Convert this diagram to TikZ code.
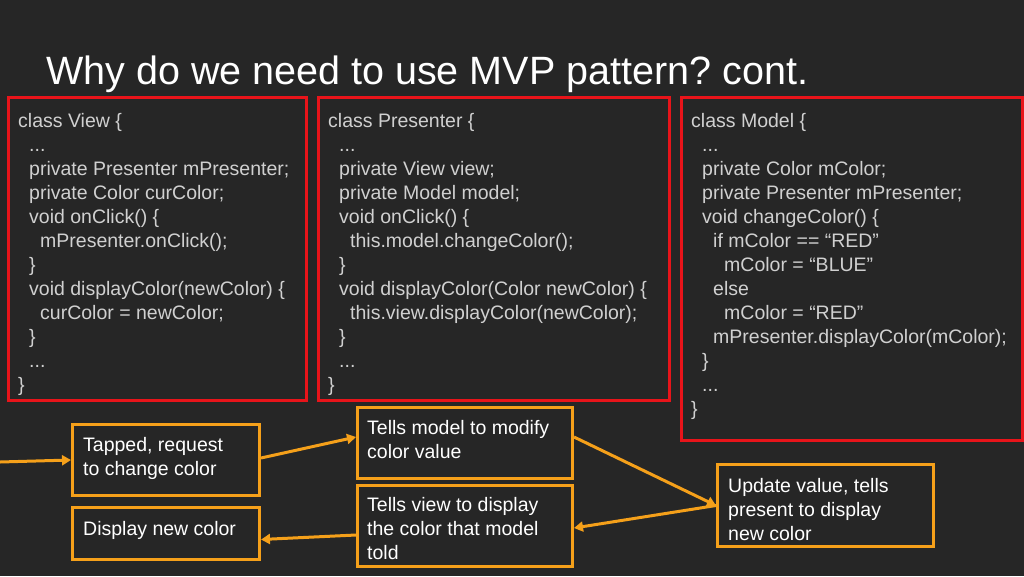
\documentclass[tikz,border=0pt]{standalone}
\usepackage{fontspec}
\setmainfont{Liberation Sans}
\usetikzlibrary{arrows.meta}
\definecolor{bg}{HTML}{262626}
\definecolor{codec}{HTML}{D0D0D0}
\definecolor{org}{HTML}{F5A01A}
\definecolor{redb}{HTML}{E8141A}
\newcommand{\ia}{\hspace*{11pt}}
\newcommand{\ib}{\hspace*{22pt}}
\newcommand{\ic}{\hspace*{33pt}}
\tikzset{
 codebox/.style={draw=redb,line width=3pt},
 code/.style={anchor=north west,inner sep=0pt,align=left,text=codec,font=\fontsize{19.5}{24}\selectfont},
 note/.style={draw=org,line width=3pt,anchor=north west,inner sep=0pt},
 notetext/.style={anchor=north west,inner sep=0pt,align=left,text=white,font=\fontsize{19.5}{24}\selectfont},
 arr/.style={draw=org,line width=3pt,-{Triangle[length=9pt,width=10pt]}}
}
\begin{document}
\frenchspacing
\begin{tikzpicture}[x=1pt,y=-1pt]
\fill[bg] (0,0) rectangle (1024,576);
\useasboundingbox (0,0) rectangle (1024,576);
\node[anchor=base west,inner sep=0pt,text=white,font=\fontsize{39.5}{44}\selectfont] (title) at (46,84) {Why do we need to use MVP pattern? cont.};
\draw[codebox] (8,97) rectangle (306,400);
\draw[codebox] (318,97) rectangle (669,400);
\draw[codebox] (681,97) rectangle (1022,440);
\node[code] (cv) at (18,113) {class View \{\\ \ia...\\ \ia private Presenter mPresenter;\\ \ia private Color curColor;\\ \ia void onClick() \{\\ \ib mPresenter.onClick();\\ \ia\}\\ \ia void displayColor(newColor) \{\\ \ib curColor = newColor;\\ \ia\}\\ \ia...\\\}};
\node[code] (cp) at (328,113) {class Presenter \{\\ \ia...\\ \ia private View view;\\ \ia private Model model;\\ \ia void onClick() \{\\ \ib this.model.changeColor();\\ \ia\}\\ \ia void displayColor(Color newColor) \{\\ \ib this.view.displayColor(newColor);\\ \ia\}\\ \ia...\\\}};
\node[code] (cm) at (691,113) {class Model \{\\ \ia...\\ \ia private Color mColor;\\ \ia private Presenter mPresenter;\\ \ia void changeColor() \{\\ \ib if mColor == “RED”\\ \ic mColor = “BLUE”\\ \ib else\\ \ic mColor = “RED”\\ \ib mPresenter.displayColor(mColor);\\ \ia\}\\ \ia...\\\}};
\node[note,minimum width=187pt,minimum height=71pt] (tap) at (71,423) {};
\node[notetext] at (83,437) {Tapped, request\\to change color};
\node[note,minimum width=187pt,minimum height=52pt] (disp) at (71,506) {};
\node[notetext] at (83,521) {Display new color};
\node[note,minimum width=215pt,minimum height=71pt] (tm) at (356,406) {};
\node[notetext] at (367,420) {Tells model to modify\\color value};
\node[note,minimum width=215pt,minimum height=81pt] (tv) at (356,484) {};
\node[notetext] at (367,497) {Tells view to display\\the color that model\\told};
\node[note,minimum width=216pt,minimum height=82pt] (up) at (716,463) {};
\node[notetext] at (728,478) {Update value, tells\\present to display\\new color};
\coordinate (start) at (0,462);
\draw[arr] (start) -- (tap.west);
\draw[arr] ([yshift=2pt]tap.east) -- ([yshift=6pt]tm.west);
\draw[arr] ([yshift=6pt]tm.east) -- (up.west);
\draw[arr] (up.west) -- ([yshift=-2pt]tv.east);
\draw[arr] ([yshift=-9pt]tv.west) -- ([yshift=-6pt]disp.east);
\end{tikzpicture}
\end{document}
